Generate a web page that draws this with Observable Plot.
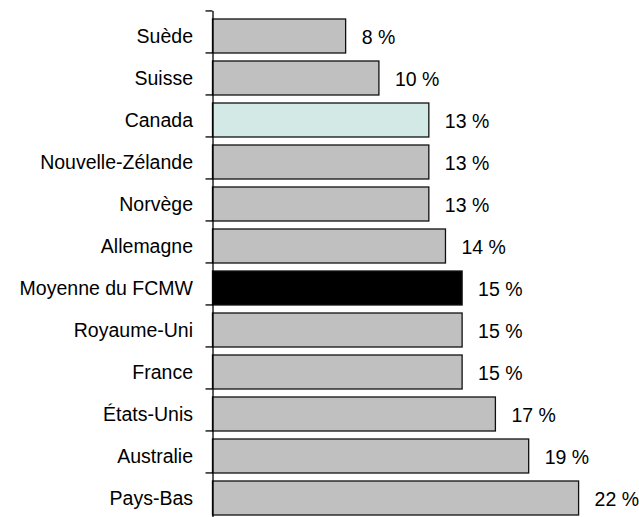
<!DOCTYPE html>
<html>
<head>
<meta charset="utf-8">
<script src="https://cdn.jsdelivr.net/npm/d3@7"></script>
<script src="https://cdn.jsdelivr.net/npm/@observablehq/plot@0.6"></script>
<style>
  html, body { margin: 0; padding: 0; background: white; overflow: hidden; }
</style>
</head>
<body>
<div id="chart"></div>
<script>
const countries = ["Suède", "Suisse", "Canada", "Nouvelle-Zélande", "Norvège", "Allemagne",
  "Moyenne du FCMW", "Royaume-Uni", "France", "États-Unis", "Australie", "Pays-Bas"];
const values = [8, 10, 13, 13, 13, 14, 15, 15, 15, 17, 19, 22];
const highlightCanada = "Canada";
const highlightAverage = "Moyenne du FCMW";

const data = countries.map((c, i) => ({country: c, value: values[i]}));

const fillFor = d => d.country === highlightCanada ? "#d2e9e5"
  : d.country === highlightAverage ? "#000000" : "#c0c0c0";

const W = 639, H = 517, mL = 212.5, mR = 60.4;
const xMax = 22;
const bandTop = 11, bandBottom = 522.2;
const padOuter = 0.1;
const step = (bandBottom - bandTop) / countries.length;
const pxPerUnit = (W - mL - mR) / xMax;
const tickLen = 7 / pxPerUnit;

const chart = Plot.plot({
  width: W,
  height: H,
  marginLeft: mL,
  marginRight: mR,
  marginTop: 11,
  marginBottom: 0,
  style: {fontFamily: "'Liberation Sans', Arial, sans-serif", fontSize: "19.5px", color: "#000", background: "white"},
  x: {domain: [0, xMax], axis: null},
  y: {domain: countries, range: [bandTop, bandBottom], paddingInner: 0.2, paddingOuter: padOuter,
      tickSize: 0, tickPadding: 20, label: null},
  marks: [
    Plot.barX(data, {x: "value", y: "country", fill: fillFor, stroke: "#111", strokeWidth: 1.3}),
    Plot.ruleX([0], {stroke: "#000", strokeWidth: 1.3}),
    Plot.ruleY(countries, {y: d => d, dy: -step / 2 - step * padOuter, x1: () => -tickLen, x2: () => 0, stroke: "#000", strokeWidth: 1.3}),
    Plot.text(data, {x: "value", y: "country", text: d => `${d.value} %`, textAnchor: "start",
      dx: 15.5, dy: 1, fill: "#000", fontSize: 19.5})
  ]
});
document.getElementById("chart").appendChild(chart);
</script>
</body>
</html>
